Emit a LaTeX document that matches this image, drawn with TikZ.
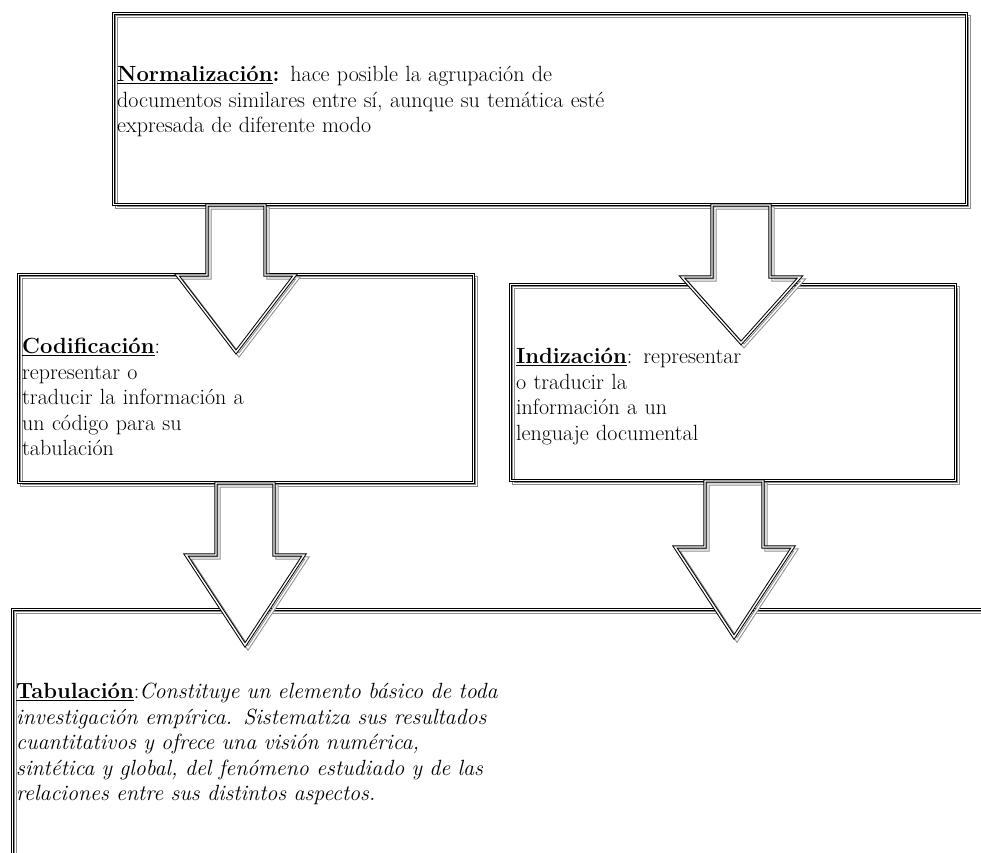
\documentclass[tikz,border=0pt]{standalone}
\usetikzlibrary{calc}

\newcommand{\boxfont}{\fontsize{22}{25.5}\selectfont}

\begin{document}
\begin{tikzpicture}[
  x=1pt,y=-1pt,
  shadowline/.style={draw=black!45,line width=1pt,double=white,double distance=1.4pt,
                     transform canvas={shift={(3pt,-3pt)}}},
  frame/.style={draw=black,line width=1pt,double=white,double distance=1.4pt,
                preaction={fill=white},preaction={shadowline}},
  box/.style={frame,rectangle,inner sep=0pt,anchor=north west},
  txt/.style={anchor=north west,inner sep=0pt,align=left,text width=1000pt,font=\boxfont},
  blockarrow/.style={frame,to path={let \p1=(\tikztostart),\p2=(\tikztotarget) in
      (\x1-29pt,\y1) -- (\x1+29pt,\y1) -- (\x1+29pt,\y2+#1) -- (\x1+59pt,\y2+#1)
      -- (\x1,\y2) -- (\x1-59pt,\y2+#1) -- (\x1-29pt,\y2+#1) -- cycle}},
  blockarrow/.default=77
]
\useasboundingbox (0,0) rectangle (981,852);
\clip (0,0) rectangle (981,852);

% boxes
\node[box,minimum width=853pt,minimum height=191pt] (norm) at (113,13) {};
\node[box,minimum width=455pt,minimum height=208pt] (cod) at (18,274) {};
\node[box,minimum width=445pt,minimum height=196pt] (ind) at (510,284) {};
\node[box,minimum width=1000pt,minimum height=300pt] (tab) at (12,609) {};

% texts
\node[txt] (normtxt) at ([shift={(4,53)}]norm.north west)
  {\underline{\textbf{Normalización}}\textbf{:} hace posible la agrupación de\\
   documentos similares entre sí, aunque su temática esté\\
   expresada de diferente modo};
\node[txt] (codtxt) at ([shift={(4,64)}]cod.north west)
  {\underline{\textbf{Codificación}}:\\
   representar o\\
   traducir la información a\\
   un código para su\\
   tabulación};
\node[txt] (indtxt) at ([shift={(6,64)}]ind.north west)
  {\underline{\textbf{Indización}}: representar\\
   o traducir la\\
   información a un\\
   lenguaje documental};
\node[txt] (tabtxt) at ([shift={(4,74)}]tab.north west)
  {\underline{\textbf{Tabulación}}:\itshape Constituye un elemento básico de toda\\
   investigación empírica. Sistematiza sus resultados\\
   cuantitativos y ofrece una visión numérica,\\
   sintética y global, del fenómeno estudiado y de las\\
   relaciones entre sus distintos aspectos.};

% arrow tips
\coordinate (tipcod) at (236,352);
\coordinate (tipind) at (741,343);
\coordinate (tiptabl) at (245,645);
\coordinate (tiptabr) at (734,637);

% arrows
\draw[blockarrow] (norm.south -| tipcod) to (tipcod);
\draw[blockarrow=66] (norm.south -| tipind) to (tipind);
\draw[blockarrow=90] (cod.south -| tiptabl) to (tiptabl);
\draw[blockarrow=90] (ind.south -| tiptabr) to (tiptabr);
\end{tikzpicture}
\end{document}
